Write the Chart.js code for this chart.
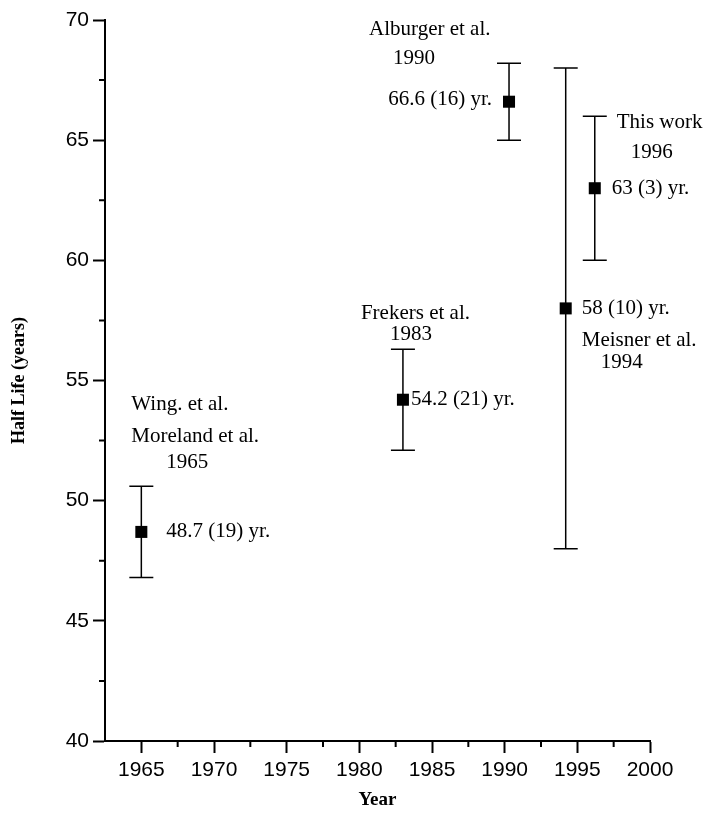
<!DOCTYPE html>
<html>
<head>
<meta charset="utf-8">
<script src="https://cdn.jsdelivr.net/npm/chart.js@4.4.1/dist/chart.umd.min.js"></script>
<style>
  html, body { margin: 0; padding: 0; background: #fff; }
</style>
</head>
<body>
<canvas id="myChart" width="704" height="815"></canvas>
<script>
// measured half lives, one entry per study
const years     = [1965, 1983, 1990.3, 1994.2, 1996.2];
const halfLife  = [48.7, 54.2, 66.6, 58, 63];
const errUp     = [1.9, 2.1, 1.6, 10, 3];
const errDown   = [1.9, 2.1, 1.6, 10, 3];
const valueText = ['48.7 (19) yr.', '54.2 (21) yr.', '66.6 (16) yr.', '58 (10) yr.', '63 (3) yr.'];
const authorText = [
    ['Wing. et al.', 'Moreland et al.', '1965'],
    ['Frekers et al.', '1983'],
    ['Alburger et al.', '1990'],
    ['Meisner et al.', '1994'],
    ['This work', '1996']
];
const yearLabels = [1965, 1970, 1975, 1980, 1985, 1990, 1995, 2000];
const halfLifeLabels = [40, 45, 50, 55, 60, 65, 70];

// where the notes sit, px from the point (layout only)
const valuePos = [
    {dx: 25, dy: 0, align: 'left'},
    {dx: 8, dy: 0, align: 'left'},
    {dx: -17, dy: -2, align: 'right'},
    {dx: 16, dy: 0, align: 'left'},
    {dx: 17, dy: 0, align: 'left'}
];
const authorPos = [
    [{dx: -10, dy: -127}, {dx: -10, dy: -95}, {dx: 25, dy: -69}],
    [{dx: -42, dy: -86}, {dx: -13, dy: -65}],
    [{dx: -140, dy: -72}, {dx: -116, dy: -43}],
    [{dx: 16, dy: 32}, {dx: 35, dy: 54}],
    [{dx: 22, dy: -66}, {dx: 36, dy: -36}]
];

const serif = '"Liberation Serif", "Times New Roman", serif';
const sans = '"Liberation Sans", Arial, sans-serif';

const errorBars = {
    id: 'errorBars',
    beforeDatasetsDraw(chart) {
        const {ctx, scales: {x, y}} = chart;
        const cap = 12;
        ctx.save();
        ctx.strokeStyle = '#000';
        ctx.lineWidth = 1.5;
        years.forEach(function(yr, i) {
            const px = x.getPixelForValue(yr);
            const top = y.getPixelForValue(halfLife[i] + errUp[i]);
            const bot = y.getPixelForValue(halfLife[i] - errDown[i]);
            ctx.beginPath();
            ctx.moveTo(px, top); ctx.lineTo(px, bot);
            ctx.moveTo(px - cap, top); ctx.lineTo(px + cap, top);
            ctx.moveTo(px - cap, bot); ctx.lineTo(px + cap, bot);
            ctx.stroke();
        });
        ctx.restore();
    },
    afterDatasetsDraw(chart) {
        const {ctx, scales: {x, y}} = chart;
        ctx.save();
        ctx.fillStyle = '#000';
        ctx.font = '21px ' + serif;
        ctx.textBaseline = 'middle';
        years.forEach(function(yr, i) {
            const px = x.getPixelForValue(yr);
            const py = y.getPixelForValue(halfLife[i]);
            ctx.textAlign = valuePos[i].align;
            ctx.fillText(valueText[i], px + valuePos[i].dx, py + valuePos[i].dy);
            ctx.textAlign = 'left';
            authorText[i].forEach(function(line, j) {
                ctx.fillText(line, px + authorPos[i][j].dx, py + authorPos[i][j].dy);
            });
        });
        ctx.restore();
    }
};

// short minor tick marks at the half steps
const minorTicks = {
    id: 'minorTicks',
    afterDraw(chart) {
        const {ctx, scales: {x, y}} = chart;
        ctx.save();
        ctx.strokeStyle = '#000';
        ctx.lineWidth = 2;
        ctx.beginPath();
        y.ticks.forEach(function(t) {
            if (halfLifeLabels.includes(t.value)) return;
            const py = y.getPixelForValue(t.value);
            ctx.moveTo(y.right - 6, py); ctx.lineTo(y.right, py);
        });
        x.ticks.forEach(function(t) {
            if (yearLabels.includes(t.value) || t.value === x.min) return;
            const px = x.getPixelForValue(t.value);
            ctx.moveTo(px, x.top); ctx.lineTo(px, x.top + 6);
        });
        ctx.stroke();
        ctx.restore();
    }
};

let ctx = document.getElementById('myChart').getContext('2d');
let chart = new Chart(ctx, {
    type: 'scatter',
    data: {
        datasets: [{
            data: years.map(function(yr, i) { return {x: yr, y: halfLife[i]}; }),
            pointStyle: 'rect',
            pointRadius: 8.5,
            pointHoverRadius: 8.5,
            backgroundColor: '#000',
            borderColor: '#000',
            borderWidth: 0
        }]
    },
    options: {
        responsive: false,
        animation: false,
        events: [],
        layout: { padding: {left: 0, top: 20, right: 54, bottom: 0} },
        plugins: { legend: {display: false}, tooltip: {enabled: false} },
        scales: {
            x: {
                type: 'linear',
                min: 1962.5,
                max: 2000,
                afterFit: function(scale) { scale.height = 74; },
                border: { display: true, color: '#000', width: 2 },
                grid: {
                    drawOnChartArea: false,
                    drawTicks: true,
                    tickLength: 12,
                    tickWidth: 2,
                    tickColor: function(c) { return yearLabels.includes(c.tick.value) ? '#000' : 'rgba(0,0,0,0)'; }
                },
                ticks: {
                    stepSize: 2.5,
                    autoSkip: false,
                    maxRotation: 0,
                    padding: 5,
                    color: '#000',
                    font: { family: sans, size: 21 },
                    callback: function(v) { return yearLabels.includes(v) ? String(v) : ''; }
                },
                title: {
                    display: true,
                    text: 'Year',
                    color: '#000',
                    font: { family: serif, size: 19, weight: 'bold' },
                    padding: { top: 0, bottom: 4 }
                }
            },
            y: {
                min: 40,
                max: 70,
                afterFit: function(scale) { scale.width = 105; },
                border: { display: true, color: '#000', width: 2 },
                grid: {
                    drawOnChartArea: false,
                    drawTicks: true,
                    tickLength: 12,
                    tickWidth: 2,
                    tickColor: function(c) { return halfLifeLabels.includes(c.tick.value) ? '#000' : 'rgba(0,0,0,0)'; }
                },
                ticks: {
                    stepSize: 2.5,
                    autoSkip: false,
                    padding: 4,
                    color: '#000',
                    font: { family: sans, size: 21 },
                    callback: function(v) { return halfLifeLabels.includes(v) ? String(v) : ''; }
                },
                title: {
                    display: true,
                    text: 'Half Life (years)',
                    color: '#000',
                    font: { family: serif, size: 18, weight: 'bold' },
                    padding: { top: 9, bottom: 0 }
                }
            }
        }
    },
    plugins: [errorBars, minorTicks]
});
</script>
</body>
</html>
